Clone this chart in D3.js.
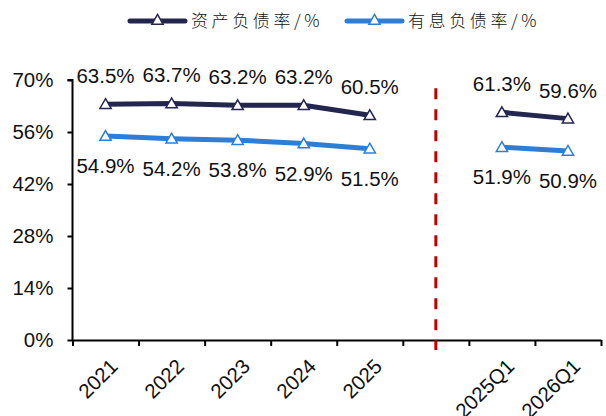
<!DOCTYPE html>
<html>
<head>
<meta charset="utf-8">
<script src="https://cdn.jsdelivr.net/npm/d3@7"></script>
<style>
  body { margin: 0; background: #fff; }
  svg { display: block; }
</style>
</head>
<body>
<svg id="chart" width="606" height="416"></svg>
<script>
const categories = ["2021", "2022", "2023", "2024", "2025", "", "2025Q1", "2026Q1"]
const assetDebt = [63.5, 63.7, 63.2, 63.2, 60.5, null, 61.3, 59.6]
const interestDebt = [54.9, 54.2, 53.8, 52.9, 51.5, null, 51.9, 50.9]
const yTicks = [0, 14, 28, 42, 56, 70]
const seriesNames = ["资产负债率/%", "有息负债率/%"]
const dividerAt = ""            // red dashed divider sits in the empty slot
const dividerSpan = [67.8, -2.7] // from/to in axis units

const width = 606, height = 416
const margin = ({top: 80, right: 5, bottom: 76, left: 72.5})
const colors = ["#23264f", "#2e7dd7"]
const font = "Arial, 'Liberation Sans', sans-serif"
const fontSize = 20.5

const svg = d3.select("#chart")

const x = d3.scaleBand()
    .domain(categories)
    .range([margin.left, width - margin.right])

const xEdges = d3.scaleLinear()
    .domain([0, categories.length])
    .range([margin.left, width - margin.right])

const y = d3.scaleLinear()
    .domain([0, 70])
    .range([height - margin.bottom, margin.top])

const cx = i => x(categories[i]) + x.bandwidth() / 2

// y axis
svg.append("g")
    .attr("transform", `translate(${margin.left},0)`)
    .call(d3.axisLeft(y).tickValues(yTicks).tickFormat(d => d + "%").tickSize(5).tickPadding(14))
    .call(g => g.select(".domain").attr("stroke-width", 2).attr("d", `M-5,${y(70)}H0V${y(0)}`))
    .call(g => g.selectAll(".tick line").attr("stroke-width", 2))
    .call(g => g.selectAll("text").attr("font-family", font).attr("font-size", fontSize).attr("fill", "#111"))

// x axis (ticks at band edges)
svg.append("g")
    .attr("transform", `translate(0,${y(0)})`)
    .call(d3.axisBottom(xEdges).tickValues(d3.range(categories.length + 1)).tickFormat("").tickSize(6).tickSizeOuter(0))
    .call(g => g.select(".domain").attr("stroke-width", 2))
    .call(g => g.selectAll(".tick line").attr("stroke-width", 2))

svg.append("g")
    .selectAll("text")
    .data(categories)
    .join("text")
    .attr("transform", (d, i) => `translate(${cx(i)},${y(0) + 14}) rotate(-45)`)
    .attr("text-anchor", "end")
    .attr("dy", "0.94em")
    .attr("font-family", font)
    .attr("font-size", fontSize)
    .attr("fill", "#111")
    .text(d => d)

// divider
const di = categories.indexOf(dividerAt)
svg.append("line")
    .attr("x1", cx(di)).attr("x2", cx(di))
    .attr("y1", y(dividerSpan[0])).attr("y2", y(dividerSpan[1]))
    .attr("stroke", "#c00000")
    .attr("stroke-width", 3)
    .attr("stroke-dasharray", "11,10")

// series
const triangle = d3.symbol().type(d3.symbolTriangle).size(55)
const line = d3.line()
    .defined(d => d != null)
    .x((d, i) => cx(i))
    .y(d => y(d))

const series = [assetDebt, interestDebt]
series.forEach((vals, s) => {
    const pts = vals.map((v, i) => ({v, i})).filter(d => d.v != null)

    svg.append("path")
        .datum(vals)
        .attr("fill", "none")
        .attr("stroke", colors[s])
        .attr("stroke-width", 5)
        .attr("d", line)

    svg.append("g")
        .selectAll("path")
        .data(pts)
        .join("path")
        .attr("transform", d => `translate(${cx(d.i)},${y(d.v) + 1})`)
        .attr("d", triangle)
        .attr("fill", "#fff")
        .attr("stroke", colors[s])
        .attr("stroke-width", 1.5)

    svg.append("g")
        .attr("font-family", font)
        .attr("font-size", fontSize)
        .attr("fill", "#111")
        .attr("text-anchor", "middle")
        .selectAll("text")
        .data(pts)
        .join("text")
        .attr("x", d => cx(d.i))
        .attr("y", d => s === 0 ? y(d.v) - 21 : y(d.v) + 37)
        .text(d => d.v.toFixed(1) + "%")
})

// legend
const legend = svg.append("g")
    .selectAll("g")
    .data(seriesNames)
    .join("g")
    .attr("transform", (d, i) => `translate(${[130, 347][i]},21)`)

legend.append("line")
    .attr("x1", 0).attr("x2", 55)
    .attr("stroke", (d, i) => colors[i])
    .attr("stroke-width", 5)
    .attr("stroke-linecap", "round")

legend.append("path")
    .attr("transform", "translate(27.5,0)")
    .attr("d", triangle)
    .attr("fill", "#fff")
    .attr("stroke", (d, i) => colors[i])
    .attr("stroke-width", 1.5)

legend.append("text")
    .attr("x", 61)
    .attr("dy", "0.36em")
    .attr("font-family", "'Noto Sans CJK SC', sans-serif")
    .attr("font-weight", 300)
    .attr("font-size", 17)
    .attr("letter-spacing", 3.6)
    .attr("fill", "#111")
    .text(d => d)
</script>
</body>
</html>
